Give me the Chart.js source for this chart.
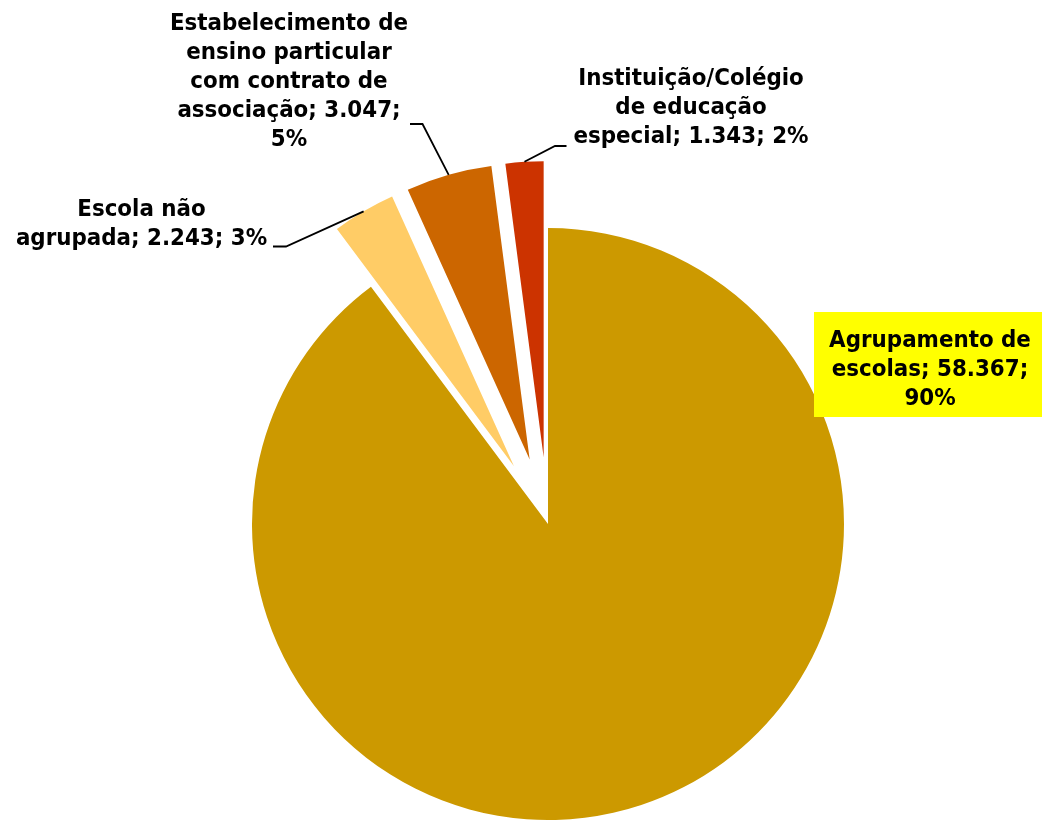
<!DOCTYPE html>
<html>
<head>
<meta charset="utf-8">
<script src="https://cdn.jsdelivr.net/npm/chart.js@4.4.1/dist/chart.umd.min.js"></script>
<style>
  html, body { margin: 0; padding: 0; background: #ffffff; }
  #wrap { width: 1043px; height: 821px; position: relative; }
</style>
</head>
<body>
<div id="wrap"><canvas id="c" width="1043" height="821"></canvas></div>
<script>
// ---- data ----
const categories = [
  'Agrupamento de escolas',
  'Escola não agrupada',
  'Estabelecimento de ensino particular com contrato de associação',
  'Instituição/Colégio de educação especial'
];
const values = [58367, 2243, 3047, 1343];

// ---- style / layout ----
const colors = ['#CC9900', '#FFCC66', '#CC6600', '#CC3300'];
const explodeDist = [0, 67, 67, 67];
const pieRadius = 296;
const lineHeight = 29;
const labelLayout = [
  { cx: 930, y: 347, wordsPerLine: [2, 2, 1], box: { x: 814, y: 312, w: 228, h: 105, color: '#FFFF00' } },
  { cx: 141.5, y: 216, wordsPerLine: [2, 3], leader: [[273, 246.5], [286, 246.5]] },
  { cx: 289, y: 30, wordsPerLine: [2, 2, 3, 2, 1], leader: [[410, 124], [422.5, 124]] },
  { cx: 691, y: 85, wordsPerLine: [1, 2, 3], leader: [[566.5, 146], [555, 146]] }
];

const total = values.reduce((a, b) => a + b, 0);
function fmtThousands(v) { return String(v).replace(/\B(?=(\d{3})+(?!\d))/g, '.'); }
function labelText(i) {
  return categories[i] + '; ' + fmtThousands(values[i]) + '; ' + Math.round(values[i] / total * 100) + '%';
}
function wrapLines(i) {
  const words = labelText(i).split(' ');
  const out = [];
  let k = 0;
  for (const n of labelLayout[i].wordsPerLine) {
    out.push(words.slice(k, k + n).join(' '));
    k += n;
  }
  return out;
}

// choose font size so label text width matches the reference metrics
const families = '"DejaVu Sans Condensed", "DejaVu Sans", sans-serif';
let fontSize = 24;
(function () {
  const m = document.createElement('canvas').getContext('2d');
  m.font = 'bold 100px ' + families;
  const w = m.measureText('Estabelecimento de').width;
  fontSize = Math.round(100 * 238 / w * 10) / 10;
})();

const explodePlugin = {
  id: 'explode',
  afterUpdate(chart) {
    const meta = chart.getDatasetMeta(0);
    meta.data.forEach((arc, i) => {
      const d = explodeDist[i];
      if (!d) return;
      const mid = (arc.startAngle + arc.endAngle) / 2;
      arc.x += Math.cos(mid) * d;
      arc.y += Math.sin(mid) * d;
    });
  }
};

const labelPlugin = {
  id: 'sliceLabels',
  afterDraw(chart) {
    const ctx = chart.ctx;
    const meta = chart.getDatasetMeta(0);
    ctx.save();
    meta.data.forEach((arc, i) => {
      const L = labelLayout[i];
      if (L.box) {
        ctx.fillStyle = L.box.color;
        ctx.fillRect(L.box.x, L.box.y, L.box.w, L.box.h);
      }
      if (L.leader) {
        const mid = (arc.startAngle + arc.endAngle) / 2;
        const ex = arc.x + Math.cos(mid) * arc.outerRadius;
        const ey = arc.y + Math.sin(mid) * arc.outerRadius;
        ctx.beginPath();
        ctx.moveTo(L.leader[0][0], L.leader[0][1]);
        ctx.lineTo(L.leader[1][0], L.leader[1][1]);
        ctx.lineTo(ex, ey);
        ctx.strokeStyle = '#000000';
        ctx.lineWidth = 1.8;
        ctx.stroke();
      }
      ctx.fillStyle = '#000000';
      ctx.font = 'bold ' + fontSize + 'px ' + families;
      ctx.textAlign = 'center';
      ctx.textBaseline = 'alphabetic';
      wrapLines(i).forEach((line, j) => {
        ctx.fillText(line, L.cx, L.y + j * lineHeight);
      });
    });
    ctx.restore();
  }
};

new Chart(document.getElementById('c'), {
  type: 'pie',
  data: {
    labels: categories,
    datasets: [{
      data: values,
      backgroundColor: colors,
      borderWidth: 0,
      clip: false
    }]
  },
  options: {
    responsive: false,
    devicePixelRatio: 1,
    animation: false,
    events: [],
    radius: pieRadius,
    layout: { padding: { left: 53, right: 0, top: 227, bottom: 0 } },
    plugins: {
      legend: { display: false },
      tooltip: { enabled: false },
      title: { display: false }
    }
  },
  plugins: [explodePlugin, labelPlugin]
});
</script>
</body>
</html>
